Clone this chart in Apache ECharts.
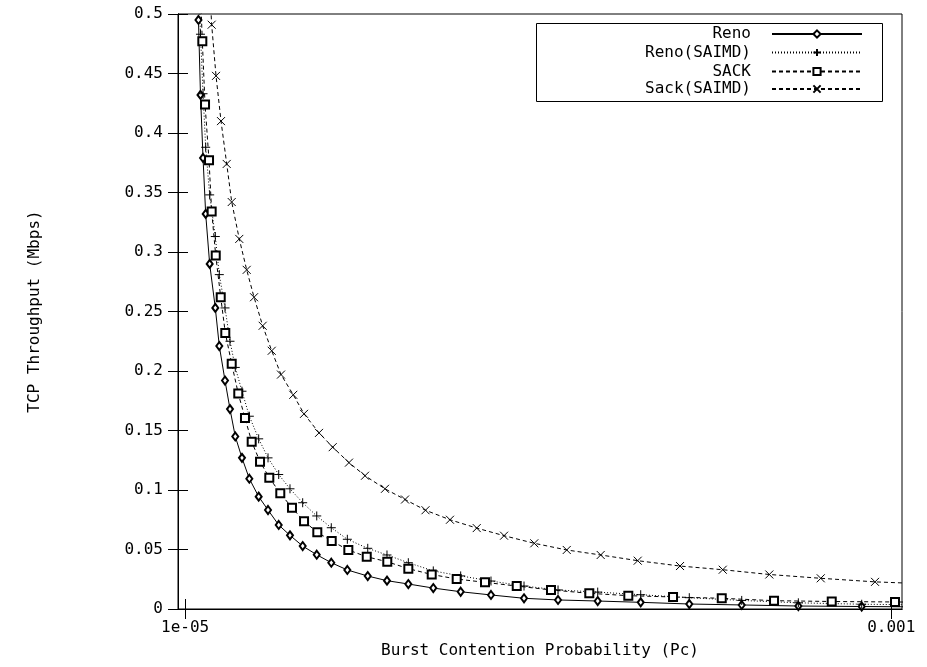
<!DOCTYPE html>
<html>
<head>
<meta charset="utf-8">
<script src="https://cdn.jsdelivr.net/npm/echarts@6/dist/echarts.min.js"></script>
<style>
  html, body { margin: 0; padding: 0; background: #fff; }
  #main { width: 927px; height: 667px; }
</style>
</head>
<body>
<div id="main"></div>
<script>
// burst contention probability (Pc) and TCP throughput (Mbps)
const renoPc = [28.7e-6, 31.5e-6, 35.1e-6, 38.8e-6, 44.4e-6, 52.3e-6, 57.9e-6, 65.9e-6, 72.9e-6, 80.3e-6,
  89.7e-6, 100.0e-6, 113.1e-6, 126.2e-6, 141.2e-6, 157.0e-6, 174.8e-6, 194.5e-6, 214.9e-6, 237.4e-6,
  266.0e-6, 293.0e-6, 322.9e-6, 357.9e-6, 396.3e-6, 438.8e-6, 485.1e-6, 532.8e-6, 588.4e-6, 648.7e-6,
  716.8e-6, 790.3e-6, 869.7e-6, 958.5e-6, 1054.3e-6];
const renoTput = [0.495, 0.432, 0.379, 0.332, 0.290, 0.253, 0.221, 0.192, 0.168, 0.145,
  0.127, 0.1095, 0.0944, 0.0832, 0.0706, 0.0619, 0.0529, 0.0456, 0.0389, 0.0328,
  0.0277, 0.0238, 0.0210, 0.0176, 0.0145, 0.0118, 0.0090, 0.0076, 0.0067, 0.0056,
  0.0042, 0.0034, 0.0025, 0.0021, 0.0017];
const renoSaimdTput = [0.538, 0.483, 0.433, 0.388, 0.348, 0.313, 0.281, 0.253, 0.225, 0.203,
  0.183, 0.162, 0.143, 0.127, 0.113, 0.101, 0.0893, 0.0782, 0.0683, 0.0586,
  0.0510, 0.0454, 0.0389, 0.0320, 0.0278, 0.0235, 0.0193, 0.0160, 0.0142, 0.0120,
  0.0095, 0.0072, 0.0052, 0.0040, 0.0034];
const sackPc = [30.6e-6, 34.1e-6, 37.9e-6, 43.5e-6, 47.2e-6, 52.9e-6, 59.9e-6, 66.3e-6, 75.3e-6, 84.5e-6,
  93.9e-6, 103.3e-6, 115.0e-6, 128.0e-6, 143.4e-6, 159.8e-6, 176.7e-6, 195.3e-6, 215.5e-6, 238.8e-6,
  264.6e-6, 293.4e-6, 322.9e-6, 355.7e-6, 390.7e-6, 430.4e-6, 474.9e-6, 522.9e-6, 576.6e-6, 631.3e-6,
  694.0e-6, 762.3e-6, 835.6e-6, 916.5e-6, 1005.2e-6, 1106.2e-6];
const sackTput = [0.533, 0.477, 0.424, 0.377, 0.334, 0.297, 0.262, 0.232, 0.206, 0.181,
  0.1605, 0.1406, 0.1238, 0.1103, 0.0972, 0.0851, 0.0737, 0.0645, 0.0571, 0.0496,
  0.0439, 0.0397, 0.0339, 0.0290, 0.0252, 0.0224, 0.0193, 0.0160, 0.0132, 0.0112,
  0.0101, 0.0090, 0.0070, 0.0063, 0.0059, 0.0055];
const sackSaimdPc = [42.9e-6, 47.2e-6, 53.3e-6, 60.3e-6, 68.3e-6, 75.3e-6, 85.9e-6, 96.3e-6, 106.6e-6, 118.7e-6,
  131.4e-6, 144.4e-6, 161.6e-6, 176.7e-6, 197.7e-6, 216.9e-6, 239.7e-6, 262.2e-6, 290.2e-6, 318.3e-6,
  347.0e-6, 381.3e-6, 418.8e-6, 457.1e-6, 499.5e-6, 545.0e-6, 592.6e-6, 644.5e-6, 703.8e-6, 763.7e-6,
  829.0e-6, 901.1e-6, 977.2e-6, 1075.3e-6];
const sackSaimdTput = [0.54, 0.491, 0.448, 0.410, 0.374, 0.342, 0.311, 0.285, 0.262, 0.238,
  0.217, 0.197, 0.180, 0.164, 0.148, 0.136, 0.123, 0.112, 0.101, 0.092,
  0.083, 0.075, 0.068, 0.0616, 0.0552, 0.0496, 0.0454, 0.0406, 0.0361, 0.0330,
  0.0290, 0.0258, 0.0228, 0.0205];

const seriesNames = ["Reno", "Reno(SAIMD)", "SACK", "Sack(SAIMD)"];
const xTickValues = [1e-5, 0.001];
const xTickLabels = ["1e-05", "0.001"];

const FONT = "DejaVu Sans Mono";
const pairs = (xs, ys) => xs.map((x, i) => [x, ys[i]]);

var chart = echarts.init(document.getElementById("main"));

const baseSeries = {
  type: "line",
  xAxisIndex: 0,
  yAxisIndex: 0,
  clip: true,
  animation: false,
  itemStyle: { color: "#000", borderColor: "#000", borderWidth: 1 },
  emphasis: { disabled: true },
};

const legendTops = [34, 52.5, 71.5, 89];

var option = {
  backgroundColor: "#fff",
  animation: false,
  grid: {
    left: 178,
    right: 25,
    top: 14,
    bottom: 58,
    show: true,
    borderColor: "#000",
    borderWidth: 1,
  },
  graphic: [
    {
      type: "rect",
      z: 10,
      shape: { x: 536.5, y: 23.5, width: 346, height: 78 },
      style: { fill: "none", stroke: "#000", lineWidth: 1 },
    },
  ],
  legend: seriesNames.map((name, i) => ({
    data: [name],
    selectedMode: false,
    align: "right",
    right: 64,
    top: legendTops[i] - 9,
    padding: 0,
    itemWidth: 90,
    itemHeight: 9,
    textStyle: {
      fontFamily: FONT,
      fontSize: 16,
      color: "#000",
      lineHeight: 18,
      padding: [0, 16, 0, 0],
    },
  })),
  xAxis: [
    {
      type: "value",
      min: 0,
      max: 0.001015,
      name: "Burst Contention Probability (Pc)",
      nameLocation: "middle",
      nameGap: 34,
      nameTextStyle: { fontFamily: FONT, fontSize: 16, color: "#000" },
      axisLine: { lineStyle: { color: "#000", width: 1 } },
      axisTick: {
        inside: true,
        length: 10,
        customValues: xTickValues,
        lineStyle: { color: "#000" },
      },
      axisLabel: {
        customValues: xTickValues,
        margin: 11,
        fontFamily: FONT,
        fontSize: 16,
        color: "#000",
        formatter: (v) => xTickLabels[xTickValues.findIndex((t) => Math.abs(t - v) < 1e-9)],
      },
      splitLine: { show: false },
    },
    {
      type: "value",
      position: "top",
      min: 0,
      max: 0.001015,
      axisLine: { lineStyle: { color: "#000", width: 1 } },
      axisTick: {
        inside: true,
        length: 10,
        customValues: xTickValues,
        lineStyle: { color: "#000" },
      },
      axisLabel: { show: false },
      splitLine: { show: false },
    },
  ],
  yAxis: [
    {
      type: "value",
      min: 0,
      max: 0.5,
      interval: 0.05,
      name: "TCP Throughput (Mbps)",
      nameLocation: "middle",
      nameGap: 135,
      nameTextStyle: { fontFamily: FONT, fontSize: 16, color: "#000" },
      axisLine: { show: true, lineStyle: { color: "#000", width: 1 } },
      axisTick: { show: true, inside: true, length: 10, lineStyle: { color: "#000" } },
      axisLabel: {
        margin: 15,
        fontFamily: FONT,
        fontSize: 16,
        color: "#000",
        formatter: (v) => String(Math.round(v * 100) / 100),
      },
      splitLine: { show: false },
    },
    {
      type: "value",
      position: "right",
      min: 0,
      max: 0.5,
      interval: 0.05,
      axisLine: { show: true, lineStyle: { color: "#000", width: 1 } },
      axisTick: { show: true, inside: true, length: 10, lineStyle: { color: "#000" } },
      axisLabel: { show: false },
      splitLine: { show: false },
    },
  ],
  series: [
    {
      ...baseSeries,
      name: seriesNames[0],
      data: pairs(renoPc, renoTput),
      symbol: "emptyDiamond",
      symbolSize: [6, 8],
      lineStyle: { color: "#000", width: 1, type: "solid" },
    },
    {
      ...baseSeries,
      name: seriesNames[1],
      data: pairs(renoPc, renoSaimdTput),
      symbol: "path://M0,5L10,5M5,0L5,10",
      symbolSize: 9,
      lineStyle: { color: "#000", width: 1, type: [1, 2] },
    },
    {
      ...baseSeries,
      name: seriesNames[2],
      data: pairs(sackPc, sackTput),
      symbol: "emptyRect",
      symbolSize: 8,
      lineStyle: { color: "#000", width: 1, type: [4, 3] },
    },
    {
      ...baseSeries,
      name: seriesNames[3],
      data: pairs(sackSaimdPc, sackSaimdTput),
      symbol: "path://M0,0L10,10M10,0L0,10",
      symbolSize: 8,
      lineStyle: { color: "#000", width: 1, type: [4, 3] },
    },
  ],
};

chart.setOption(option);
</script>
</body>
</html>
